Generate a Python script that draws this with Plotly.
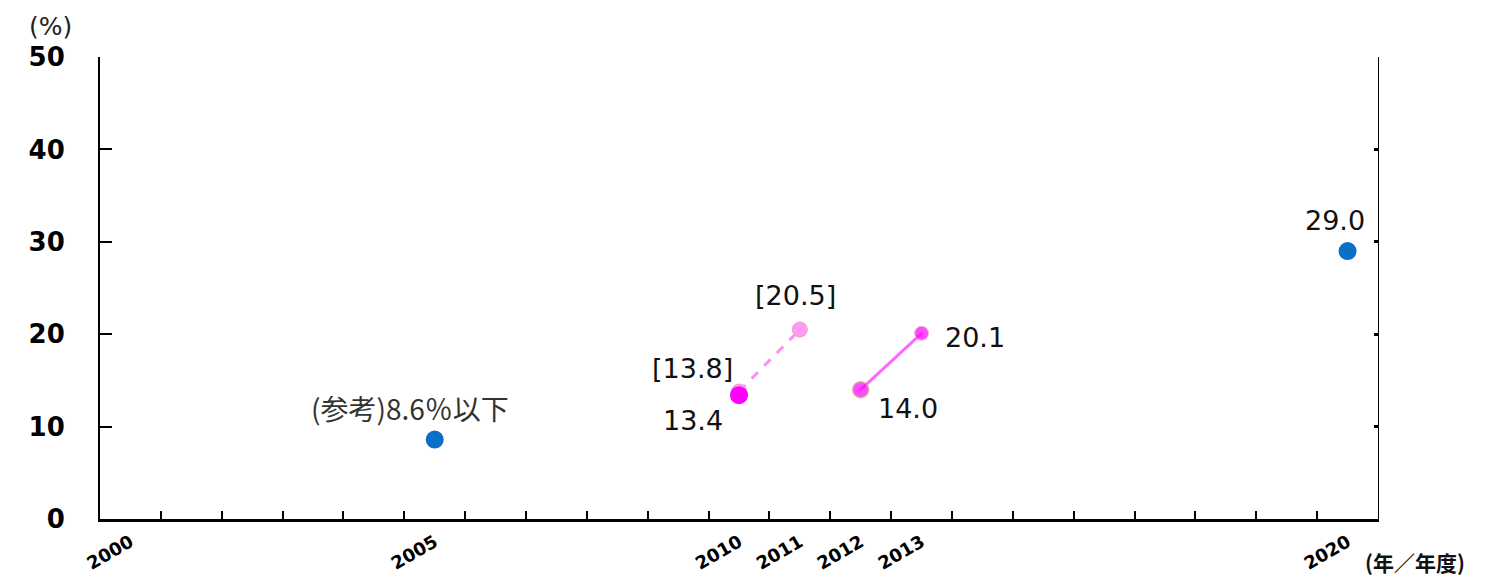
import plotly.graph_objects as go

# Values by fiscal year (%), plotted at the centre of each year slot
ref_years = [2005, 2020]
ref_values = [8.6, 29.0]

prelim_years = [2010, 2011]          # bracketed (preliminary) series
prelim_values = [13.8, 20.5]

actual_years = [2012, 2013]
actual_values = [14.0, 20.1]

single_year = [2010]
single_value = [13.4]

label_years = [2000, 2005, 2010, 2011, 2012, 2013, 2020]
year_grid = list(range(2000, 2022))

BLUE = "#0A6FC6"
MAGENTA = "#FF00FF"
PINK = "#FF99F5"
LINE_PINK = "#FF66FF"

W, H = 1492, 579
ML, MR, MT, MB = 100, 114, 57, 60
pw, ph = W - ML - MR, H - MT - MB


def centre(years):
    return [y + 0.5 for y in years]


fig = go.Figure()

# Preliminary series (dashed)
fig.add_trace(go.Scatter(
    x=centre(prelim_years), y=prelim_values, mode="lines+markers",
    line=dict(color="#FF8CF8", width=3, dash="dash"),
    marker=dict(size=15, color=PINK, line=dict(color="#E8A0C8", width=1)),
    hoverinfo="skip", showlegend=False))

# Actual series (solid)
fig.add_trace(go.Scatter(
    x=centre(actual_years), y=actual_values, mode="lines",
    line=dict(color=LINE_PINK, width=3),
    hoverinfo="skip", showlegend=False))
fig.add_trace(go.Scatter(
    x=centre(actual_years), y=actual_values, mode="markers",
    marker=dict(size=[16, 14], color=MAGENTA,
                line=dict(color=["#C89070", "#F0A0C0"], width=[1.5, 1])),
    hoverinfo="skip", showlegend=False))

# Single 2010 value
fig.add_trace(go.Scatter(
    x=centre(single_year), y=single_value, mode="markers",
    marker=dict(size=18, color=MAGENTA),
    hoverinfo="skip", showlegend=False))

# Reference / target points
fig.add_trace(go.Scatter(
    x=centre(ref_years), y=ref_values, mode="markers",
    marker=dict(size=18, color=BLUE),
    hoverinfo="skip", showlegend=False))

# Right-hand frame line with small inward ticks
fig.add_trace(go.Scatter(x=[2000], y=[0], yaxis="y2", mode="markers",
                         marker=dict(opacity=0), hoverinfo="skip",
                         showlegend=False))

LABEL_FONT = dict(family="DejaVu Sans", size=27, color="#111111")


def value_label(x, y, text, dx, dy, font=LABEL_FONT):
    fig.add_annotation(x=x + 0.5, y=y, xref="x", yref="y", text=text,
                       showarrow=False, xshift=dx, yshift=dy, font=font,
                       xanchor="center", yanchor="middle")


value_label(ref_years[0], ref_values[0], f"(参考){ref_values[0]:.1f}％以下",
            -25, 32, dict(family="Noto Sans CJK JP", size=28, color="#333333"))
value_label(ref_years[1], ref_values[1], f"{ref_values[1]:.1f}", -13, 31)
value_label(prelim_years[0], prelim_values[0], f"[{prelim_values[0]:.1f}]", -47, 23)
value_label(prelim_years[1], prelim_values[1], f"[{prelim_values[1]:.1f}]", -4, 34)
value_label(single_year[0], single_value[0], f"{single_value[0]:.1f}", -46, -25)
value_label(actual_years[0], actual_values[0], f"{actual_values[0]:.1f}", 47, -19)
value_label(actual_years[1], actual_values[1], f"{actual_values[1]:.1f}", 53, -4)


def px_to_paper(px, py):
    return (px - ML) / pw, (H - MB - py) / ph


# Axis unit labels
ux, uy = px_to_paper(50, 26)
fig.add_annotation(x=ux, y=uy, xref="paper", yref="paper", text="(%)",
                   showarrow=False, xanchor="center", yanchor="middle",
                   font=dict(family="DejaVu Sans", size=25, color="#222222"))
ux, uy = px_to_paper(1415, 562)
fig.add_annotation(x=ux, y=uy, xref="paper", yref="paper", text="(年／年度)",
                   showarrow=False, xanchor="center", yanchor="middle",
                   font=dict(family="Noto Sans CJK JP", size=21, color="#111111",
                             weight="bold"))

fig.update_layout(
    width=W, height=H,
    margin=dict(l=ML, r=MR, t=MT, b=MB, autoexpand=False),
    plot_bgcolor="white", paper_bgcolor="white",
    xaxis=dict(
        range=[2000, 2021], showgrid=False, zeroline=False, automargin=False,
        showline=True, linecolor="black", linewidth=2.5,
        tickmode="array", tickvals=centre(label_years),
        ticktext=[str(y) for y in label_years],
        ticks="inside", ticklen=0, tickcolor="rgba(0,0,0,0)",
        tickangle=-30, ticklabelstandoff=3,
        tickfont=dict(family="DejaVu Sans", size=18, color="black",
                      weight="bold"),
        minor=dict(tickmode="array", tickvals=year_grid, ticks="inside",
                   ticklen=8, tickwidth=1.5, tickcolor="black",
                   showgrid=False),
    ),
    yaxis=dict(
        range=[0, 50], tickvals=[0, 10, 20, 30, 40, 50], automargin=False,
        showgrid=False, zeroline=False,
        showline=True, linecolor="black", linewidth=2,
        ticks="inside", ticklen=12, tickwidth=1.5, tickcolor="black",
        ticklabelstandoff=28,
        tickfont=dict(family="DejaVu Sans", size=26, color="black",
                      weight="bold"),
    ),
    yaxis2=dict(
        range=[0, 50], tickvals=[0, 10, 20, 30, 40, 50], automargin=False,
        overlaying="y", side="right", showgrid=False, zeroline=False,
        showline=True, linecolor="black", linewidth=1,
        ticks="inside", ticklen=4, tickwidth=3, tickcolor="black",
        showticklabels=False,
    ),
)

fig.write_html("out.html")
